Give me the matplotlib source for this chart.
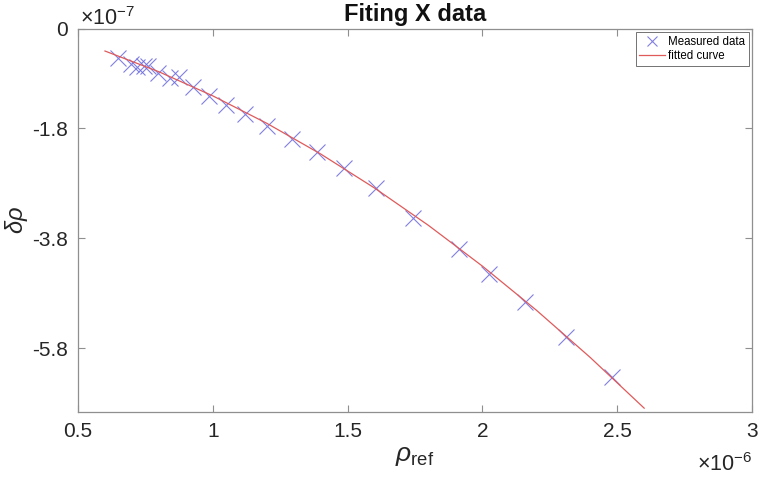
import numpy as np
import matplotlib
matplotlib.use("Agg")
import matplotlib.pyplot as plt

# measured points (x in 1e-6, y in 1e-7)
rho_ref = [0.647, 0.696, 0.720, 0.744, 0.761, 0.796, 0.841, 0.876, 0.926, 0.987,
           1.048, 1.119, 1.200, 1.293, 1.385, 1.485, 1.607, 1.742, 1.912, 2.026,
           2.159, 2.310, 2.480]
delta_rho = [-0.518, -0.627, -0.691, -0.664, -0.673, -0.791, -0.882, -0.864, -1.055, -1.218,
             -1.373, -1.545, -1.764, -2.000, -2.236, -2.518, -2.891, -3.442, -4.005, -4.460,
             -4.960, -5.595, -6.322]

# fitted curve
fit_x = [0.6, 0.8, 1.0, 1.2, 1.4, 1.6, 1.8, 2.0, 2.2, 2.4, 2.6]
fit_y = [-0.400, -0.777, -1.215, -1.713, -2.271, -2.890, -3.569, -4.309, -5.109, -5.969, -6.890]

xticks = [0.5, 1, 1.5, 2, 2.5, 3]
xticklabels = ["0.5", "1", "1.5", "2", "2.5", "3"]
yticks = [-5.8, -3.8, -1.8, 0]
yticklabels = ["-5.8", "-3.8", "-1.8", "0"]

plt.rcParams['font.family'] = ['Liberation Sans', 'DejaVu Sans']
plt.rcParams['mathtext.fontset'] = 'custom'
plt.rcParams['mathtext.rm'] = 'Liberation Sans'
plt.rcParams['mathtext.it'] = 'Liberation Sans:italic'
plt.rcParams['axes.unicode_minus'] = False

fig = plt.figure(figsize=(7.58, 4.88), dpi=100)
ax = fig.add_axes([78 / 758, 76 / 488, 674 / 758, 383 / 488])

ax.plot(rho_ref, delta_rho, 'x', color='#6b6bdc', markersize=11, markeredgewidth=0.8,
        alpha=0.85, label='Measured data')
ax.plot(fit_x, fit_y, '-', color='#e05a5a', linewidth=0.9, label='fitted curve')

ax.set_xlim(0.5, 3)
ax.set_ylim(-6.96, 0)
ax.set_xticks(xticks)
ax.set_xticklabels(xticklabels)
ax.set_yticks(yticks)
ax.set_yticklabels(yticklabels)

for s in ax.spines.values():
    s.set_color('#8f8f8f')
    s.set_linewidth(0.9)
ax.tick_params(direction='in', length=5, width=0.8, color='#8f8f8f',
               top=True, right=True, labelsize=15, labelcolor='#262626', pad=7)

ax.set_title('Fiting X data', fontsize=17, fontweight='bold', color='#111111', pad=6)
ax.set_xlabel(r'$\rho_{\rm ref}$', fontsize=19, color='#262626', labelpad=2)
ax.set_ylabel(r'$\delta\rho$', fontsize=17, color='#262626', labelpad=2)

fig.text(80 / 758, 1 - 19 / 488, r'$\times10^{-7}$', fontsize=15.5, color='#262626',
         ha='left', va='center')
fig.text(752 / 758, 1 - 465 / 488, r'$\times10^{-6}$', fontsize=15.5, color='#262626',
         ha='right', va='center')

leg = ax.legend(loc='upper right', fontsize=8.3, frameon=True, fancybox=False,
                borderpad=0.3, labelspacing=0.2, handlelength=2.2, handletextpad=0.3,
                borderaxespad=0.3, markerscale=0.7)
leg.get_frame().set_edgecolor('#333333')
leg.get_frame().set_linewidth(0.6)

fig.savefig('out.png', dpi=100)
